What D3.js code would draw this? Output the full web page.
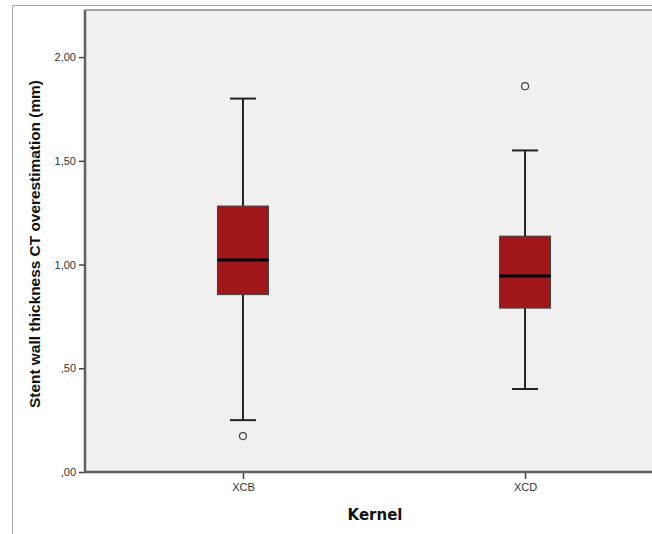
<!DOCTYPE html>
<html>
<head>
<meta charset="utf-8">
<script src="https://cdn.jsdelivr.net/npm/d3@7"></script>
<style>
  body { margin: 0; background: #fff; }
  svg { display: block; }
</style>
</head>
<body>
<div class="draw"></div>
<script>
// values
var kernels = ['XCB', 'XCD'];
var whiskerLow = [0.25, 0.40];
var q1 = [0.855, 0.79];
var medians = [1.022, 0.945];
var q3 = [1.282, 1.137];
var whiskerHigh = [1.80, 1.55];
var outliers = [[0.173], [1.86]];
var yTicks = [0, 0.5, 1.0, 1.5, 2.0];

var width = 652, height = 534;
var plotLeft = 85, plotTop = 10, plotRight = 683, plotBottom = 472;

var svg = d3.select('.draw').append('svg')
    .attr('width', width)
    .attr('height', height);

// outer frame
svg.append('path')
    .attr('d', 'M12.5,' + height + 'V5.5H' + width)
    .attr('fill', 'none')
    .attr('stroke', '#a6a6a6')
    .attr('stroke-width', 1);

var x = d3.scalePoint()
    .domain(kernels)
    .range([plotLeft, plotRight])
    .padding(0.56);

var y = d3.scaleLinear()
    .domain([0, 2.227])
    .range([plotBottom, plotTop]);

svg.append('rect')
    .attr('x', plotLeft)
    .attr('y', plotTop)
    .attr('width', plotRight - plotLeft)
    .attr('height', plotBottom - plotTop)
    .attr('fill', '#f0f0f0');

var boxW = 51, capW = 26;

var data = kernels.map(function (k, i) {
    return { k: k, lo: whiskerLow[i], q1: q1[i], med: medians[i], q3: q3[i], hi: whiskerHigh[i], out: outliers[i] };
});

var g = svg.selectAll('.box').data(data).enter().append('g').attr('class', 'box');

g.append('line')
    .attr('x1', function (d) { return x(d.k); })
    .attr('x2', function (d) { return x(d.k); })
    .attr('y1', function (d) { return y(d.hi); })
    .attr('y2', function (d) { return y(d.lo); })
    .attr('stroke', '#222')
    .attr('stroke-width', 2);

g.selectAll('.cap').data(function (d) { return [{ k: d.k, v: d.hi }, { k: d.k, v: d.lo }]; })
    .enter().append('line')
    .attr('x1', function (d) { return x(d.k) - capW / 2; })
    .attr('x2', function (d) { return x(d.k) + capW / 2; })
    .attr('y1', function (d) { return y(d.v); })
    .attr('y2', function (d) { return y(d.v); })
    .attr('stroke', '#222')
    .attr('stroke-width', 2);

g.append('rect')
    .attr('x', function (d) { return x(d.k) - boxW / 2; })
    .attr('y', function (d) { return y(d.q3); })
    .attr('width', boxW)
    .attr('height', function (d) { return y(d.q1) - y(d.q3); })
    .attr('fill', '#a0171a')
    .attr('stroke', '#444')
    .attr('stroke-width', 1);

g.append('line')
    .attr('x1', function (d) { return x(d.k) - boxW / 2; })
    .attr('x2', function (d) { return x(d.k) + boxW / 2; })
    .attr('y1', function (d) { return y(d.med); })
    .attr('y2', function (d) { return y(d.med); })
    .attr('stroke', '#000')
    .attr('stroke-width', 3);

g.selectAll('.out').data(function (d) { return d.out.map(function (v) { return { k: d.k, v: v }; }); })
    .enter().append('circle')
    .attr('cx', function (d) { return x(d.k); })
    .attr('cy', function (d) { return y(d.v); })
    .attr('r', 3.5)
    .attr('fill', '#f4f4f4')
    .attr('stroke', '#444')
    .attr('stroke-width', 1.2);

var fmt = function (v) {
    var s = d3.format('.2f')(v).replace('.', ',');
    return s.indexOf('0,') === 0 ? s.slice(1) : s;
};

var yaxis = svg.append('g')
    .attr('transform', 'translate(' + plotLeft + ',0)')
    .call(d3.axisLeft(y).tickValues(yTicks).tickFormat(fmt).tickSize(6).tickSizeOuter(0));
yaxis.select('.domain').remove();

var xaxis = svg.append('g')
    .attr('transform', 'translate(0,' + plotBottom + ')')
    .call(d3.axisBottom(x).tickSize(7).tickSizeOuter(0).tickPadding(4));
xaxis.select('.domain').remove();

svg.selectAll('.tick line').attr('stroke', '#444').attr('stroke-width', 1.5);
svg.selectAll('.tick text')
    .attr('fill', '#333')
    .style('font-family', 'Liberation Sans, Arial, sans-serif')
    .style('font-size', '11px');

// axis lines
svg.append('path')
    .attr('d', 'M' + plotLeft + ',' + plotTop + 'V' + plotBottom + 'H' + width)
    .attr('fill', 'none')
    .attr('stroke', '#606060')
    .attr('stroke-width', 2.5);
svg.append('line')
    .attr('x1', plotLeft).attr('x2', width)
    .attr('y1', plotTop).attr('y2', plotTop)
    .attr('stroke', '#8a8a8a')
    .attr('stroke-width', 1.5);

svg.append('text')
    .attr('x', 375)
    .attr('y', 520)
    .attr('text-anchor', 'middle')
    .style('font-family', 'DejaVu Sans, Verdana, sans-serif')
    .style('font-size', '15px')
    .style('font-weight', 'bold')
    .attr('fill', '#111')
    .text('Kernel');

var ytitle = svg.append('text')
    .attr('transform', 'translate(40,244) rotate(-90)')
    .attr('text-anchor', 'middle')
    .style('font-family', 'Liberation Sans, Arial, sans-serif')
    .style('font-size', '14px')
    .style('font-weight', 'bold')
    .attr('fill', '#111')
    .text('Stent wall thickness CT overestimation (mm)');
// fit title length to the reference span (~328px)
var len = ytitle.node().getComputedTextLength();
ytitle.style('font-size', (14 * 328 / len).toFixed(2) + 'px');
</script>
</body>
</html>
